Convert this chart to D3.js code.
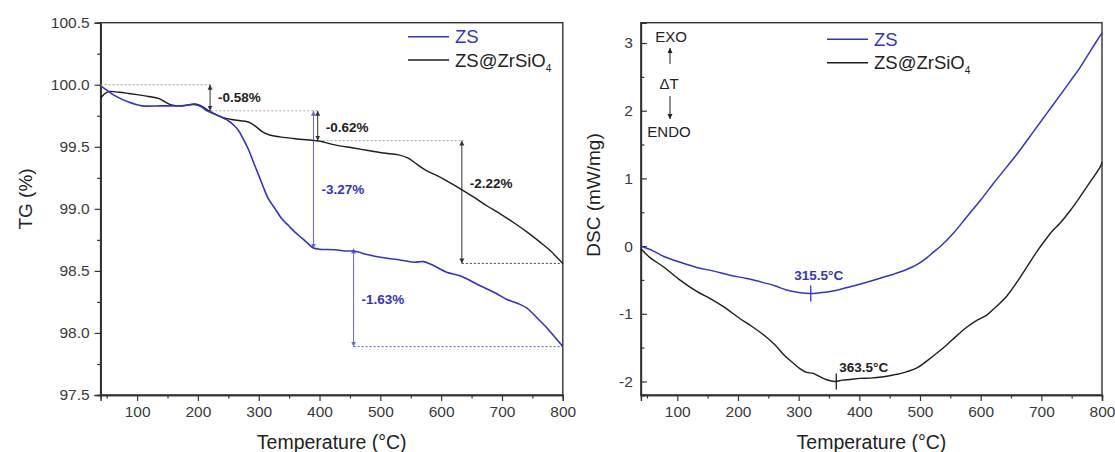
<!DOCTYPE html>
<html>
<head>
<meta charset="utf-8">
<script src="https://cdn.jsdelivr.net/npm/d3@7"></script>
<style>
  body { margin: 0; background: #fff; }
  svg { font-family: "Liberation Sans", Arial, sans-serif; }
</style>
</head>
<body>
<div id="chart"></div>
<script>
// ---- data ----
const tempDomain = [40, 800];
const xMajor = [100, 200, 300, 400, 500, 600, 700, 800];
const xMinor = [50, 150, 250, 350, 450, 550, 650, 750];

const tgMajor = [97.5, 98.0, 98.5, 99.0, 99.5, 100.0, 100.5];
const tgMinor = [97.75, 98.25, 98.75, 99.25, 99.75, 100.25];
const dscMajor = [-2, -1, 0, 1, 2, 3];
const dscMinor = [-1.5, -0.5, 0.5, 1.5, 2.5];

// TG (%) vs temperature
const tgZS = [[40, 99.99], [52, 99.95], [64, 99.91], [86, 99.86], [108, 99.83], [140, 99.83], [173, 99.83],
  [195, 99.84], [205, 99.825], [215, 99.79], [234, 99.75], [250, 99.71], [260, 99.67], [267, 99.63],
  [275, 99.56], [283, 99.48], [291, 99.38], [300, 99.27], [308, 99.17], [316, 99.08], [327, 99.0],
  [338, 98.92], [350, 98.86], [360, 98.81], [372, 98.76], [382, 98.715], [390, 98.685], [400, 98.675],
  [425, 98.67], [445, 98.66], [456, 98.66], [480, 98.63], [500, 98.61], [530, 98.59], [555, 98.57],
  [571, 98.575], [585, 98.55], [609, 98.49], [631, 98.46], [664, 98.38], [690, 98.32], [708, 98.27],
  [725, 98.24], [741, 98.2], [758, 98.12], [774, 98.04], [788, 97.96], [800, 97.89]];

const tgZSZr = [[40, 99.89], [45, 99.92], [53, 99.945], [70, 99.94], [86, 99.93], [100, 99.92], [113, 99.91],
  [135, 99.89], [145, 99.865], [155, 99.84], [173, 99.83], [195, 99.845], [205, 99.83], [215, 99.8],
  [234, 99.75], [250, 99.725], [270, 99.71], [283, 99.7], [295, 99.665], [305, 99.625], [318, 99.595],
  [335, 99.58], [360, 99.565], [393, 99.55], [401, 99.545], [425, 99.515], [456, 99.49], [480, 99.47],
  [505, 99.45], [530, 99.435], [545, 99.41], [560, 99.36], [575, 99.31], [590, 99.275], [604, 99.24],
  [620, 99.195], [637, 99.145], [655, 99.09], [675, 99.025], [697, 98.96], [719, 98.89], [742, 98.81],
  [763, 98.73], [780, 98.66], [792, 98.6], [800, 98.56]];

// DSC (mW/mg) vs temperature
const dscZS = [[40, 0.0], [60, -0.07], [77, -0.15], [105, -0.24], [132, -0.315], [160, -0.37], [187, -0.43],
  [215, -0.48], [242, -0.54], [262, -0.59], [280, -0.65], [300, -0.685], [319, -0.7], [335, -0.69],
  [352, -0.67], [368, -0.64], [385, -0.6], [401, -0.565], [418, -0.52], [438, -0.465], [456, -0.415],
  [478, -0.345], [495, -0.275], [511, -0.175], [522, -0.09], [533, -0.01], [555, 0.19], [577, 0.43],
  [600, 0.68], [621, 0.925], [643, 1.17], [665, 1.42], [687, 1.69], [709, 1.96], [731, 2.23],
  [748, 2.44], [764, 2.64], [780, 2.87], [797, 3.11], [800, 3.15]];

const dscZSZr = [[40, -0.04], [55, -0.17], [77, -0.305], [104, -0.5], [132, -0.67], [155, -0.78],
  [176, -0.895], [203, -1.07], [222, -1.18], [242, -1.31], [260, -1.45], [275, -1.6], [290, -1.72],
  [302, -1.81], [313, -1.865], [324, -1.88], [335, -1.93], [346, -1.975], [360, -2.0], [372, -1.98],
  [385, -1.97], [401, -1.955], [418, -1.95], [437, -1.935], [456, -1.905], [475, -1.865], [495, -1.8],
  [511, -1.7], [528, -1.58], [544, -1.46], [560, -1.33], [577, -1.2], [595, -1.09], [610, -1.02],
  [625, -0.9], [643, -0.74], [660, -0.53], [676, -0.31], [692, -0.09], [709, 0.12], [720, 0.24],
  [731, 0.34], [748, 0.53], [764, 0.73], [780, 0.94], [797, 1.17], [800, 1.24]];

// TG step annotations: arrow at temperature t between two TG levels
const tgSteps = [
  {t: 220, from: 100.0, to: 99.79, label: "-0.58%", labelAt: 99.9, series: "zr"},
  {t: 397, from: 99.79, to: 99.55, label: "-0.62%", labelAt: 99.655, series: "zr"},
  {t: 390, from: 99.79, to: 98.68, label: "-3.27%", labelAt: 99.155, series: "zs"},
  {t: 634, from: 99.55, to: 98.56, label: "-2.22%", labelAt: 99.21, series: "zr"},
  {t: 456, from: 98.68, to: 97.89, label: "-1.63%", labelAt: 98.27, series: "zs"}
];
// dotted guide levels
const tgGuides = [
  {t1: 40, t2: 222, v: 100.0, series: "grey"},
  {t1: 222, t2: 400, v: 99.79, series: "grey"},
  {t1: 405, t2: 637, v: 99.55, series: "grey"},
  {t1: 634, t2: 800, v: 98.56, series: "zr"},
  {t1: 456, t2: 800, v: 97.89, series: "zs"}
];
// DSC peak markers
const dscPeaks = [
  {t: 320, v: -0.70, label: "315.5°C", series: "zs"},
  {t: 362, v: -2.0, label: "363.5°C", series: "zr"}
];

const colors = {zs: "#3434c4", zr: "#1e1e1e", grey: "#9a9a9a"};
const axisColor = "#333";
const textColor = "#3a3a3a";

// ---- layout ----
const W = 1115, H = 452;
const panels = {
  tg:  {left: 100.6, right: 562.8, top: 22.7, bottom: 395},
  dsc: {left: 640.9, right: 1102, top: 22.7, bottom: 395}
};

const svg = d3.select("#chart").append("svg")
  .attr("width", W).attr("height", H);

const defs = svg.append("defs");
["zs", "zr"].forEach(k => {
  defs.append("marker")
    .attr("id", "arrow-" + k)
    .attr("viewBox", "0 0 10 10")
    .attr("refX", 10).attr("refY", 5)
    .attr("markerWidth", 5).attr("markerHeight", 7)
    .attr("markerUnits", "userSpaceOnUse")
    .attr("orient", "auto-start-reverse")
    .append("path")
    .attr("d", "M0,0 L10,5 L0,10 z")
    .attr("fill", colors[k]);
});

function drawPanel(p, yDomain, yMajor, yMinor, yFormat, yInward, yTitle, titleX, titleY) {
  const x = d3.scaleLinear().domain(tempDomain).range([p.left, p.right]);
  const y = d3.scaleLinear().domain(yDomain).range([p.bottom, p.top]);
  const g = svg.append("g");

  // frame
  g.append("rect")
    .attr("x", p.left).attr("y", p.top)
    .attr("width", p.right - p.left).attr("height", p.bottom - p.top)
    .attr("fill", "none").attr("stroke", axisColor).attr("stroke-width", 1.4);

  // x axis
  const gx = g.append("g").attr("transform", `translate(0,${p.bottom})`);
  gx.call(d3.axisBottom(x).tickValues(xMajor).tickSize(6).tickPadding(5).tickFormat(d3.format("d")));
  const gxm = g.append("g").attr("transform", `translate(0,${p.bottom})`);
  gxm.call(d3.axisBottom(x).tickValues(xMinor).tickSize(3.5).tickFormat(""));

  // y axis
  const gy = g.append("g").attr("transform", `translate(${p.left},0)`);
  gy.call(d3.axisLeft(y).tickValues(yMajor).tickSize(yInward ? -6 : 6).tickPadding(yInward ? 8 : 5).tickFormat(yFormat));
  const gym = g.append("g").attr("transform", `translate(${p.left},0)`);
  gym.call(d3.axisLeft(y).tickValues(yMinor).tickSize(yInward ? -3.5 : 3.5).tickFormat(""));

  [gx, gxm, gy, gym].forEach(a => {
    a.select(".domain").attr("stroke", axisColor).attr("stroke-width", 1.4);
    a.selectAll(".tick line").attr("stroke", axisColor).attr("stroke-width", 1.2);
    a.selectAll(".tick text").attr("fill", textColor).style("font-size", "15.5px")
      .style("font-family", "'Liberation Sans', Arial, sans-serif");
  });

  // axis titles
  g.append("text")
    .attr("x", (p.left + p.right) / 2).attr("y", 449)
    .attr("text-anchor", "middle").attr("fill", "#222")
    .style("font-size", "19.5px")
    .text("Temperature (°C)");
  g.append("text")
    .attr("transform", `translate(${titleX},${titleY}) rotate(-90)`)
    .attr("text-anchor", "middle").attr("fill", "#222")
    .style("font-size", "19px")
    .text(yTitle);

  return {x, y, g};
}

function legend(g, x1, x2, yA, yB) {
  const items = [{k: "zs", y: yA}, {k: "zr", y: yB}];
  items.forEach(it => {
    g.append("line").attr("x1", x1).attr("x2", x2).attr("y1", it.y).attr("y2", it.y)
      .attr("stroke", colors[it.k]).attr("stroke-width", 1.4);
  });
  g.append("text").attr("x", x2 + 6).attr("y", yA + 6.5)
    .attr("fill", colors.zs).style("font-size", "18.5px").text("ZS");
  const t = g.append("text").attr("x", x2 + 6).attr("y", yB + 6.5)
    .attr("fill", "#222").style("font-size", "18.5px");
  t.append("tspan").text("ZS@ZrSiO");
  t.append("tspan").attr("dy", 5).style("font-size", "10px").text("4");
}

const line = (x, y) => d3.line().x(d => x(d[0])).y(d => y(d[1])).curve(d3.curveCatmullRom.alpha(0.5));

// ---- TG panel ----
const tg = drawPanel(panels.tg, [97.5, 100.5], tgMajor, tgMinor, d3.format(".1f"), false, "TG (%)", 32, 199);

tgGuides.forEach(d => {
  tg.g.append("line")
    .attr("x1", tg.x(d.t1)).attr("x2", tg.x(d.t2))
    .attr("y1", tg.y(d.v)).attr("y2", tg.y(d.v))
    .attr("stroke", colors[d.series]).attr("stroke-width", 1)
    .attr("stroke-dasharray", "2,2").attr("opacity", d.series === "grey" ? 0.9 : 0.8);
});

tg.g.append("path").datum(tgZSZr)
  .attr("d", line(tg.x, tg.y)).attr("fill", "none")
  .attr("stroke", colors.zr).attr("stroke-width", 1.4);
tg.g.append("path").datum(tgZS)
  .attr("d", line(tg.x, tg.y)).attr("fill", "none")
  .attr("stroke", colors.zs).attr("stroke-width", 1.6);

tgSteps.forEach(d => {
  tg.g.append("line")
    .attr("x1", tg.x(d.t)).attr("x2", tg.x(d.t))
    .attr("y1", tg.y(d.from)).attr("y2", tg.y(d.to))
    .attr("stroke", colors[d.series]).attr("stroke-width", 1)
    .attr("opacity", d.series === "zs" ? 0.75 : 0.9)
    .attr("marker-start", `url(#arrow-${d.series})`)
    .attr("marker-end", `url(#arrow-${d.series})`);
  tg.g.append("text")
    .attr("x", tg.x(d.t) + 8).attr("y", tg.y(d.labelAt)).attr("dy", "0.35em")
    .attr("fill", d.series === "zs" ? colors.zs : "#222")
    .style("font-size", "13.5px").style("font-weight", "bold")
    .text(d.label);
});

legend(tg.g, 408, 449, 36.7, 60);

// ---- DSC panel ----
const dsc = drawPanel(panels.dsc, [-2.2, 3.3], dscMajor, dscMinor, d => String(d), true, "DSC (mW/mg)", 600, 195);

dsc.g.append("path").datum(dscZSZr)
  .attr("d", line(dsc.x, dsc.y)).attr("fill", "none")
  .attr("stroke", colors.zr).attr("stroke-width", 1.4);
dsc.g.append("path").datum(dscZS)
  .attr("d", line(dsc.x, dsc.y)).attr("fill", "none")
  .attr("stroke", colors.zs).attr("stroke-width", 1.5);

dscPeaks.forEach((d, i) => {
  const px = dsc.x(d.t), py = dsc.y(d.v);
  dsc.g.append("line")
    .attr("x1", px).attr("x2", px).attr("y1", py - 8).attr("y2", py + 8)
    .attr("stroke", colors[d.series]).attr("stroke-width", 1.3);
  dsc.g.append("text")
    .attr("x", i === 0 ? px + 8 : px + 3)
    .attr("y", i === 0 ? py - 18 : py - 14).attr("dy", "0.35em")
    .attr("text-anchor", i === 0 ? "middle" : "start")
    .attr("fill", d.series === "zs" ? colors.zs : "#222")
    .style("font-size", "13.5px").style("font-weight", "bold")
    .text(d.label);
});

// EXO / ΔT / ENDO indicator
const ind = dsc.g.append("g");
ind.append("text").attr("x", 671).attr("y", 36.7).attr("dy", "0.35em")
  .attr("text-anchor", "middle").attr("fill", "#222").style("font-size", "15px").text("EXO");
ind.append("text").attr("x", 669).attr("y", 84).attr("dy", "0.35em")
  .attr("text-anchor", "middle").attr("fill", "#222").style("font-size", "15px").text("ΔT");
ind.append("text").attr("x", 669).attr("y", 132).attr("dy", "0.35em")
  .attr("text-anchor", "middle").attr("fill", "#222").style("font-size", "15px").text("ENDO");
ind.append("line").attr("x1", 670).attr("x2", 670).attr("y1", 64).attr("y2", 48)
  .attr("stroke", "#222").attr("stroke-width", 1).attr("marker-end", "url(#arrow-zr)");
ind.append("line").attr("x1", 670).attr("x2", 670).attr("y1", 96).attr("y2", 119)
  .attr("stroke", "#222").attr("stroke-width", 1).attr("marker-end", "url(#arrow-zr)");

legend(dsc.g, 827, 868, 39.3, 62.7);
</script>
</body>
</html>
